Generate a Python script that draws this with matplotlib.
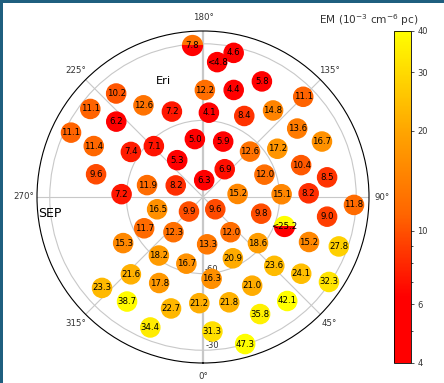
import numpy as np
import matplotlib
matplotlib.use('Agg')
import matplotlib.pyplot as plt
from matplotlib.colors import LogNorm, LinearSegmentedColormap
from matplotlib.patches import Rectangle
from matplotlib.ticker import NullFormatter

# ecliptic longitude (deg) and latitude (deg) of each sight line
lon = [184,174,168,179,220,232,213,200,176,229,244,245,188,224,238,215,258,258,247,176,268,
       164,153,141,135,153,126,115,160,134,123,108,99,142,110,95,92,92,87,
       45,74,81,70,38,50,67,70,5,26,46,52,56,6,29,358,14,39,26,4,16,
       285,316,298,320,300,323,346,317,312,333,324,344,338]
lat = [-30.5,-36.9,-32.3,-48.1,-37.1,-34.0,-47.2,-54.4,-56.9,-45.0,-32.5,-42.8,-67.1,-62.3,-56.7,-72.4,-47.2,-67.6,-78.4,-83.4,-58.1,
       -46.4,-39.2,-46.4,-34.5,-54.4,-44.4,-38.6,-66.9,-64.4,-55.3,-49.6,-40.8,-76.2,-64.4,-76.4,-59.2,-48.6,-30.8,
       -83.2,-66.3,-40.8,-56.3,-72.5,-61.9,-44.9,-33.4,-71.4,-63.3,-51.2,-41.2,-30.5,-57.8,-50.3,-48.4,-47.5,-37.6,-39.0,-37.2,-30.1,
       -71.4,-82.1,-63.9,-72.0,-53.9,-61.3,-63.1,-48.6,-36.8,-52.2,-39.4,-44.6,-34.9]
em_labels = ['7.8','<4.8','4.6','12.2','10.2','11.1','12.6','7.2','4.1','6.2','11.1','11.4','5.0','7.1','7.4','5.3','9.6','11.9','8.2','6.3','7.2',
             '4.4','5.8','14.8','11.1','8.4','13.6','16.7','5.9','12.6','17.2','10.4','8.5','6.9','12.0','15.2','15.1','8.2','11.8',
             '9.6','9.8','9.0','<25.2','12.0','18.6','15.2','27.8','13.3','20.9','23.6','24.1','32.3','16.3','21.0','21.2','21.8','42.1','35.8','31.3','47.3',
             '16.5','9.9','11.7','12.3','15.3','18.2','16.7','21.6','23.3','17.8','38.7','22.7','34.4']

# these two sight lines are drawn half and half: upper colour, lower colour
split_labels = ['7.8','<25.2']
split_upper = [12.6,40]
split_lower = [4,4]

em = np.array([float(s.strip('<')) for s in em_labels])
labels = np.array(em_labels)
theta = np.radians(lon)
r = np.array(lat)+90

fig = plt.figure(figsize=(4.44,3.83), dpi=100)
ax = fig.add_axes([37/444, 20/383, 332/444, 332/383], projection='polar')
ax.set_theta_zero_location('S')
norm = LogNorm(vmin=4, vmax=40)
cmap = LinearSegmentedColormap.from_list('redyellow', [(0,(1,0,0)),(0.2,(1,0,0)),(0.45,(1,0.4,0)),(0.7,(1,0.65,0)),(1,(1,1,0))])

whole = ~np.isin(labels, split_labels)
sc = ax.scatter(theta[whole], r[whole], c=em[whole], s=190, cmap=cmap, norm=norm, zorder=3)
for lab, up, low in zip(split_labels, split_upper, split_lower):
    k = em_labels.index(lab)
    ax.plot(theta[k], r[k], 'o', ms=15.3, mew=0, fillstyle='top', color=cmap(norm(up)),
            markerfacecoloralt=cmap(norm(low)), zorder=3)
for t, rr, s in zip(theta, r, em_labels):
    ax.text(t, rr, s, fontsize=6.2, ha='center', va='center', zorder=4)

ax.set_ylim(0, 65)
ax.set_rgrids([30,60], ['-60','-30'], angle=1, fontsize=6)
ax.set_thetagrids(np.arange(0,360,45), [str(a)+'°' for a in range(0,360,45)], fontsize=6.2)
ax.tick_params(axis='x', pad=-1, colors='#333333')
ax.tick_params(axis='y', colors='#333333')
ax.grid(color='#c8c8c8', lw=0.8)
grid_lines = ax.xaxis.get_gridlines()
grid_lines[0].set_linewidth(1.6)
grid_lines[4].set_linewidth(1.6)
ax.spines['polar'].set_linewidth(0.8)

ax.text(np.radians(199), 48, 'Eri', fontsize=8.2, ha='center', va='center', zorder=5)
ax.text(np.radians(276), 60.4, 'SEP', fontsize=9, ha='center', va='center', zorder=5)

cax = fig.add_axes([394.3/444, 20/383, 17/444, 332.3/383])
cb = fig.colorbar(sc, cax=cax)
cb.set_ticks([4,6,10,20,30,40])
cb.set_ticklabels(['4','6','10','20','30','40'])
cb.ax.yaxis.set_minor_formatter(NullFormatter())
cb.ax.tick_params(labelsize=6, length=2.5, width=0.6, pad=2, colors='#333333')
cb.ax.tick_params(which='minor', length=1.5, width=0.5)
cb.outline.set_linewidth(0.6)
fig.text(369/444, 1-20/383, 'EM (10$^{-3}$ cm$^{-6}$ pc)', fontsize=7.6, ha='center', va='center', color='#333333')

# dark frame along the top and left edges
fig.add_artist(Rectangle((0,1-3/383), 1, 3/383, transform=fig.transFigure, color='#1f5f7f', lw=0))
fig.add_artist(Rectangle((0,0), 3/444, 1, transform=fig.transFigure, color='#1f5f7f', lw=0))

fig.savefig('out.png', dpi=100)
